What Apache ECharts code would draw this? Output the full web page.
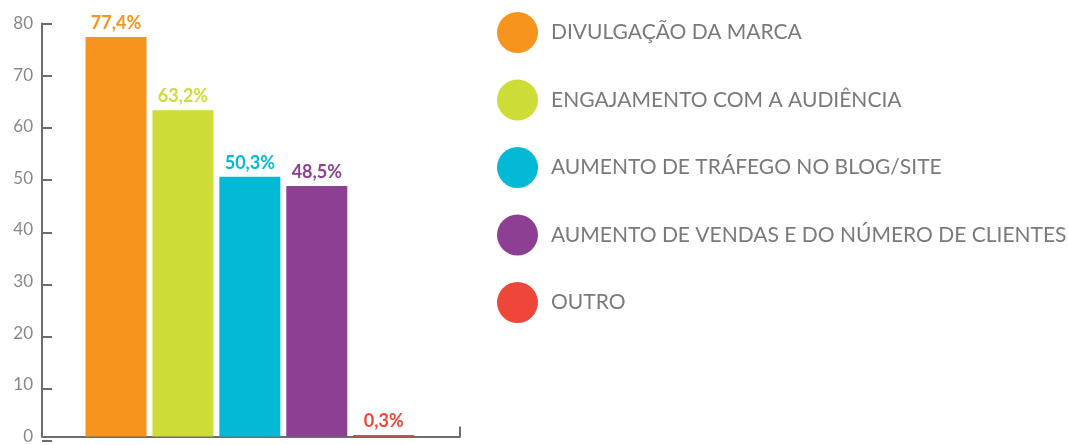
<!DOCTYPE html>
<html><head><meta charset="utf-8">
<script src="https://cdn.jsdelivr.net/npm/echarts@6/dist/echarts.min.js"></script>
<style>html,body{margin:0;padding:0;background:#fff}#c{width:1068px;height:445px}</style>
</head><body><div id="c"></div>
<script>
const categories = ['DIVULGAÇÃO DA MARCA','ENGAJAMENTO COM A AUDIÊNCIA','AUMENTO DE TRÁFEGO NO BLOG/SITE','AUMENTO DE VENDAS E DO NÚMERO DE CLIENTES','OUTRO'];
const values = [77.4, 63.2, 50.3, 48.5, 0.3];
const labels = ['77,4%', '63,2%', '50,3%', '48,5%', '0,3%'];
const colors = ['#F7941E', '#CDDC36', '#04B9D6', '#8D3F94', '#EE4638'];

const xMin = -1.106, xMax = 5.14;
const chart = echarts.init(document.getElementById('c'), null, {renderer: 'canvas'});
const series = categories.map((name, i) => ({
  name: name,
  type: 'bar',
  barWidth: 61,
  barGap: '-100%',
  xAxisIndex: 0,
  yAxisIndex: 0,
  itemStyle: {color: colors[i]},
  label: {
    show: true, position: 'top', distance: 5,
    formatter: () => labels[i],
    color: colors[i], fontFamily: 'Lato', fontWeight: 'bold', fontSize: 18
  },
  data: [[i, values[i]]]
}));
chart.setOption({
  animation: false,
  grid: [
    {left: 42, right: 608, top: 23.5, bottom: 4, containLabel: false},
    {left: 42, width: 10, top: 23.5, bottom: 4, containLabel: false}
  ],
  legend: {
    orient: 'vertical', left: 497, top: 12, icon: 'circle', padding: 0,
    itemWidth: 41, itemHeight: 41, itemGap: 26.5,
    textStyle: {color: '#7a7a7a', fontFamily: 'Lato', fontSize: 21, padding: [0, 0, 3, 8]},
    data: categories
  },
  xAxis: [{
    type: 'value', min: xMin, max: xMax, gridIndex: 0,
    axisLine: {show: true, onZero: false, lineStyle: {color: '#6d6d6d', width: 2}},
    axisTick: {show: true, inside: true, length: 10, customValues: [xMax], lineStyle: {color: '#6d6d6d', width: 2}},
    axisLabel: {show: false},
    splitLine: {show: false}
  }, {
    type: 'value', min: 0, max: 1, gridIndex: 1, show: false
  }],
  yAxis: [{
    type: 'value', min: 0, max: 80, interval: 10, position: 'left', gridIndex: 0,
    axisLine: {show: true, onZero: false, lineStyle: {color: '#6d6d6d', width: 2}},
    axisTick: {show: false},
    axisLabel: {color: '#888', fontFamily: 'Lato', fontSize: 17, margin: 9},
    splitLine: {show: false}
  }, {
    type: 'value', min: 0, max: 80, interval: 10, gridIndex: 1,
    axisLine: {show: false, onZero: false},
    axisTick: {show: false},
    axisLabel: {show: false},
    splitLine: {show: true, showMinLine: true, showMaxLine: true, lineStyle: {color: '#6d6d6d', width: 2, type: 'solid'}}
  }],
  series: series
});
</script></body></html>
